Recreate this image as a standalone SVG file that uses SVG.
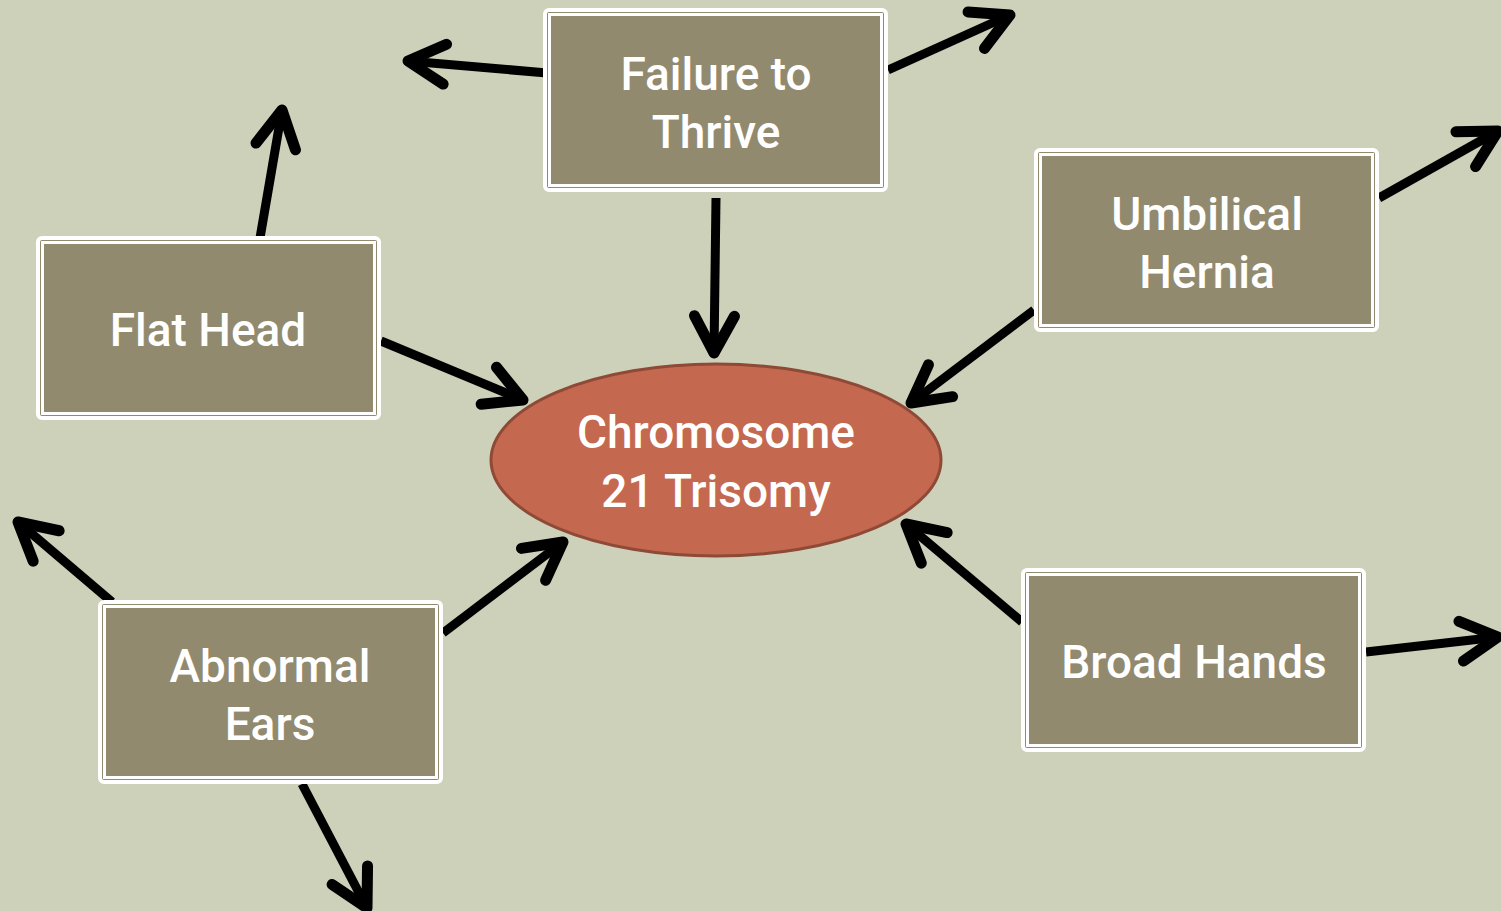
<svg xmlns="http://www.w3.org/2000/svg" width="1501" height="911" viewBox="0 0 1501 911">
  <defs>
    <style>
      .box { fill: #928A6E; stroke: #FFFFFF; stroke-width: 4; }
      .box-inner { fill: none; stroke: #FFFFFF; stroke-width: 3; }
      .label { font-family: Roboto, "Liberation Sans", sans-serif; font-weight: 500; font-size: 46px; fill: #FFFFFF; text-anchor: middle; }
      .arrow { stroke: #000000; stroke-width: 9; fill: none; marker-end: url(#head); }
    </style>
    <marker id="head" markerUnits="userSpaceOnUse" viewBox="-50 -30 60 60" markerWidth="60" markerHeight="60" refX="0" refY="0" orient="auto" overflow="visible">
      <path d="M-37,-20 L0,0 L-37,20" fill="none" stroke="#000000" stroke-width="11" stroke-linecap="round" stroke-linejoin="round"/>
    </marker>
  </defs>

  <rect width="1501" height="911" fill="#CDD1BA"/>

  <!-- connectors -->
  <g id="connectors">
    <line class="arrow" x1="547" y1="73" x2="408" y2="61"/>
    <line class="arrow" x1="888" y1="70" x2="1010" y2="15"/>
    <line class="arrow" x1="716" y1="198" x2="714" y2="353"/>
    <line class="arrow" x1="260" y1="238" x2="282" y2="110"/>
    <line class="arrow" x1="381" y1="341" x2="523" y2="400"/>
    <line class="arrow" x1="1379" y1="198" x2="1498" y2="131"/>
    <line class="arrow" x1="1034" y1="310" x2="911" y2="403"/>
    <line class="arrow" x1="112" y1="602" x2="18" y2="522"/>
    <line class="arrow" x1="443" y1="633" x2="563" y2="542"/>
    <line class="arrow" x1="302" y1="784" x2="367" y2="908"/>
    <line class="arrow" x1="1022" y1="622" x2="906" y2="524"/>
    <line class="arrow" x1="1366" y1="652" x2="1498" y2="637"/>
  </g>

  <!-- central node -->
  <g id="node-trisomy">
    <ellipse cx="716" cy="460" rx="225" ry="96" fill="#C4694F" stroke="#8E4A36" stroke-width="3"/>
    <text class="label" x="716" y="448">Chromosome</text>
    <text class="label" x="716" y="507">21 Trisomy</text>
  </g>

  <g id="node-failure">
    <rect class="box" x="545" y="10" width="341" height="180" rx="4"/>
    <rect class="box-inner" x="549.5" y="14.5" width="332" height="171"/>
    <text class="label" x="716" y="90">Failure to</text>
    <text class="label" x="716" y="148">Thrive</text>
  </g>

  <g id="node-flathead">
    <rect class="box" x="38" y="238" width="341" height="180" rx="4"/>
    <rect class="box-inner" x="42.5" y="242.5" width="332" height="171"/>
    <text class="label" x="208" y="346">Flat Head</text>
  </g>

  <g id="node-hernia">
    <rect class="box" x="1036" y="150" width="341" height="180" rx="4"/>
    <rect class="box-inner" x="1040.5" y="154.5" width="332" height="171"/>
    <text class="label" x="1207" y="230">Umbilical</text>
    <text class="label" x="1207" y="288">Hernia</text>
  </g>

  <g id="node-ears">
    <rect class="box" x="100" y="602" width="341" height="180" rx="4"/>
    <rect class="box-inner" x="104.5" y="606.5" width="332" height="171"/>
    <text class="label" x="270" y="682">Abnormal</text>
    <text class="label" x="270" y="740">Ears</text>
  </g>

  <g id="node-hands">
    <rect class="box" x="1023" y="570" width="341" height="180" rx="4"/>
    <rect class="box-inner" x="1027.5" y="574.5" width="332" height="171"/>
    <text class="label" x="1194" y="678">Broad Hands</text>
  </g>
</svg>
